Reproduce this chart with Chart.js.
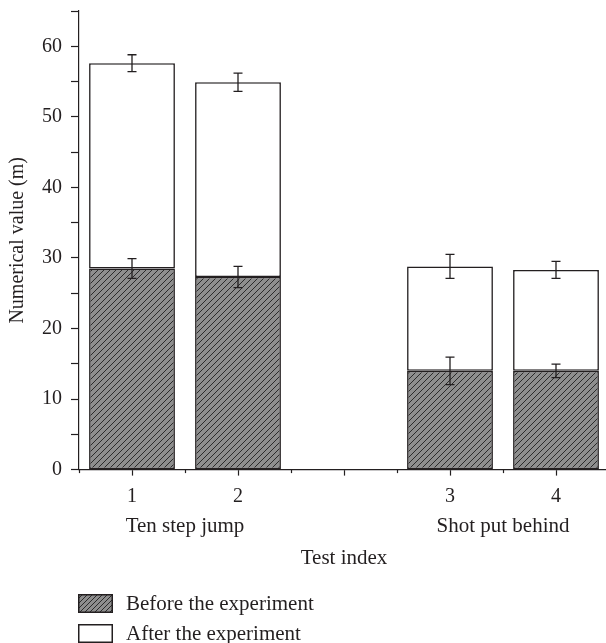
<!DOCTYPE html>
<html>
<head>
<meta charset="utf-8">
<script src="https://cdn.jsdelivr.net/npm/chart.js@4/dist/chart.umd.min.js"></script>
<style>
  html, body { margin: 0; padding: 0; background: #fff; }
  #wrap { position: relative; width: 606px; height: 643px; overflow: hidden; }
  #chart { position: absolute; left: 0; top: -10px; }
  .leg { position: absolute; left: 78px; display: flex; align-items: center; font-family: "Liberation Serif", "DejaVu Serif", serif; font-size: 21px; color: #231f20; white-space: nowrap; }
  .leg canvas { display: block; margin-right: 13px; }
</style>
</head>
<body>
<div id="wrap">
  <canvas id="chart" width="609" height="653"></canvas>
  <div class="leg" id="leg0" style="top:591px;"></div>
  <div class="leg" id="leg1" style="top:621px;"></div>
</div>
<script>
// ---- data ----
const categories = ['1', '2', '', '3', '4'];
const groupLabels = ['Ten step jump', 'Shot put behind'];
const groupPositions = [0.5, 3.5];
const seriesNames = ['Before the experiment', 'After the experiment'];
const beforeValues = [28.5, 27.3, null, 14.0, 14.0];
const beforeErrors = [1.4, 1.5, null, 1.95, 0.95];
const afterValues = [29.1, 27.6, null, 14.8, 14.3];   // stacked on top of "before"
const afterErrors = [1.2, 1.3, null, 1.7, 1.2];
const yTickValues = [0, 10, 20, 30, 40, 50, 60];

const INK = '#231f20';
const FONT = '"Liberation Serif", "DejaVu Serif", serif';

function makeHatchCanvas(size) {
  const c = document.createElement('canvas');
  c.width = size; c.height = size;
  const g = c.getContext('2d');
  g.fillStyle = '#8e8e8e';
  g.fillRect(0, 0, size, size);
  g.strokeStyle = '#2b2b2b';
  g.lineWidth = 1;
  g.beginPath();
  g.moveTo(-1, size + 1); g.lineTo(size + 1, -1);
  g.moveTo(-2, 2); g.lineTo(2, -2);
  g.moveTo(size - 2, size + 2); g.lineTo(size + 2, size - 2);
  g.stroke();
  return c;
}
const hatchTile = makeHatchCanvas(6);
const ctx = document.getElementById('chart').getContext('2d');
const hatch = ctx.createPattern(hatchTile, 'repeat');

const errorBarPlugin = {
  id: 'errorBars',
  afterDatasetsDraw(chart) {
    const y = chart.scales.y;
    const g = chart.ctx;
    g.save();
    g.strokeStyle = INK;
    g.lineWidth = 1.3;
    chart.data.datasets.forEach((ds, di) => {
      const meta = chart.getDatasetMeta(di);
      meta.data.forEach((el, i) => {
        const e = ds.errors[i];
        if (e == null || ds.data[i] == null) return;
        const d = y.getPixelForValue(0) - y.getPixelForValue(e);
        const x = el.x, cap = 4.5;
        g.beginPath();
        g.moveTo(x, el.y - d); g.lineTo(x, el.y + d);
        g.moveTo(x - cap, el.y - d); g.lineTo(x + cap, el.y - d);
        g.moveTo(x - cap, el.y + d); g.lineTo(x + cap, el.y + d);
        g.stroke();
      });
    });
    g.restore();
  }
};

const minorTickPlugin = {
  id: 'minorTicks',
  afterDraw(chart) {
    const x2 = chart.scales.x2;
    const yb = chart.chartArea.bottom;
    const g = chart.ctx;
    g.save();
    g.strokeStyle = INK;
    g.lineWidth = 1.2;
    for (let i = 0; i <= categories.length; i++) {
      const px = Math.round(x2.getPixelForValue(i - 0.5)) + 0.5;
      g.beginPath();
      g.moveTo(px, yb); g.lineTo(px, yb + 3.5);
      g.stroke();
    }
    g.restore();
  }
};

new Chart(ctx, {
  type: 'bar',
  data: {
    labels: categories,
    datasets: [
      {
        label: seriesNames[0],
        data: beforeValues,
        errors: beforeErrors,
        backgroundColor: hatch,
        borderColor: INK,
        borderWidth: 1.6,
        borderSkipped: false
      },
      {
        label: seriesNames[1],
        data: afterValues,
        errors: afterErrors,
        backgroundColor: '#ffffff',
        borderColor: INK,
        borderWidth: 1.6,
        borderSkipped: false
      }
    ]
  },
  options: {
    responsive: false,
    animation: false,
    devicePixelRatio: 1,
    barPercentage: 0.9,
    categoryPercentage: 0.9,
    layout: { padding: { left: 2, right: 0, top: 0, bottom: 72 } },
    plugins: {
      legend: { display: false },
      tooltip: { enabled: false }
    },
    scales: {
      x: {
        type: 'category',
        stacked: true,
        position: 'bottom',
        weight: 0,
        offset: true,
        grid: { display: true, drawOnChartArea: false, offset: false, tickLength: 6, color: INK, tickWidth: 1.2 },
        border: { display: true, color: INK, width: 1.2 },
        ticks: { color: INK, font: { family: FONT, size: 20 }, padding: 9, maxRotation: 0, autoSkip: false }
      },
      x2: {
        type: 'linear',
        position: 'bottom',
        weight: 1,
        offset: false,
        min: -0.5,
        max: categories.length - 0.5,
        grid: { display: false, drawTicks: false, offset: false },
        border: { display: false },
        afterBuildTicks(axis) { axis.ticks = groupPositions.map(v => ({ value: v })); },
        ticks: {
          color: INK, font: { family: FONT, size: 21 }, padding: -4, maxRotation: 0, autoSkip: false,
          callback(v) { const k = groupPositions.indexOf(v); return k >= 0 ? groupLabels[k] : ''; }
        },
        title: { display: true, text: 'Test index', color: INK, font: { family: FONT, size: 21 }, padding: { top: 11, bottom: 0 } }
      },
      y: {
        stacked: true,
        min: 0,
        max: 65,
        grid: { display: true, drawOnChartArea: false, tickLength: 8, color: INK, tickWidth: 1.2 },
        border: { display: true, color: INK, width: 1.2 },
        ticks: {
          stepSize: 5, color: INK, font: { family: FONT, size: 20 }, padding: 9,
          callback(v) { return yTickValues.includes(v) ? String(v) : ''; }
        },
        title: { display: true, text: 'Numerical value (m)', color: INK, font: { family: FONT, size: 20 }, padding: { top: 4, bottom: 3 } }
      }
    }
  },
  plugins: [errorBarPlugin, minorTickPlugin]
});

// ---- HTML legend ----
function legendBox(hatched) {
  const c = document.createElement('canvas');
  c.width = 35; c.height = 19;
  const g = c.getContext('2d');
  if (hatched) {
    g.fillStyle = g.createPattern(makeHatchCanvas(5), 'repeat');
  } else {
    g.fillStyle = '#ffffff';
  }
  g.fillRect(0, 0, 35, 19);
  g.strokeStyle = INK;
  g.lineWidth = 1.5;
  g.strokeRect(0.75, 0.75, 33.5, 17.5);
  return c;
}
[0, 1].forEach(i => {
  const el = document.getElementById('leg' + i);
  el.appendChild(legendBox(i === 0));
  const s = document.createElement('span');
  s.textContent = seriesNames[i];
  el.appendChild(s);
});
</script>
</body>
</html>
